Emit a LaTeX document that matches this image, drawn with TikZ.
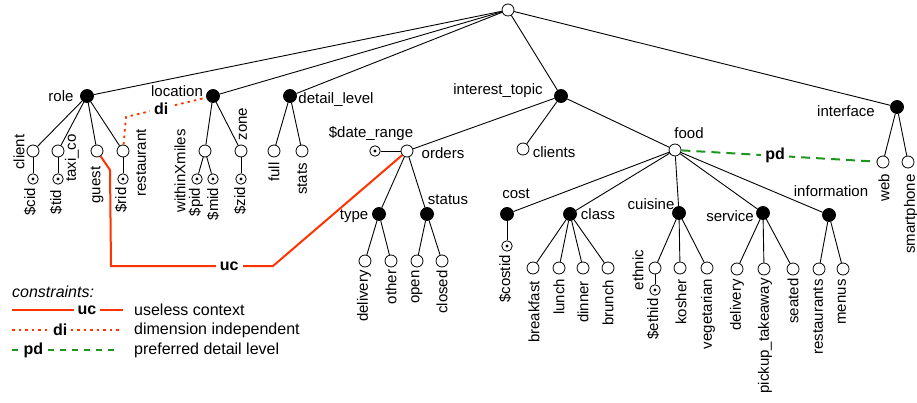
\documentclass[tikz,border=0pt]{standalone}
\usepackage{fontspec}
\setmainfont{Liberation Sans}
\definecolor{ucred}{RGB}{255,51,0}
\definecolor{pdgreen}{RGB}{30,150,30}
\begin{document}
\begin{tikzpicture}[x=1pt,y=-1pt,
  wc/.style={circle,draw,fill=white,minimum size=12pt,inner sep=0pt,line width=0.8pt},
  bc/.style={circle,draw,fill=black,minimum size=13pt,inner sep=0pt,line width=0.8pt},
  pc/.style={circle,draw,fill=white,minimum size=10.5pt,inner sep=0pt,line width=0.8pt,
     path picture={\fill[black] (path picture bounding box.center) circle[radius=1.7pt];}},
  lab/.style={inner sep=0pt,font=\fontsize{15}{15}\selectfont},
  rlab/.style={lab,rotate=90},
  legtext/.style={inner sep=0pt,font=\fontsize{16}{16}\selectfont,anchor=west},
  clab/.style={fill=white,inner xsep=4pt,inner ysep=1pt,font=\fontsize{16}{16}\selectfont\bfseries},
  tedge/.style={line width=0.9pt},
  uc/.style={draw=ucred,line width=2pt},
  di/.style={draw=ucred,line width=1.8pt,dash pattern=on 2.5pt off 4pt},
  pd/.style={draw=pdgreen,line width=2pt,dash pattern=on 9pt off 6pt}
]
\useasboundingbox (0,0) rectangle (917,403);

% ---- internal nodes ----
\node[wc] (root) at (508,10) {};
\node[bc] (role) at (87,96) {};
\node[bc] (location) at (213,96) {};
\node[bc] (detail) at (290,96) {};
\node[bc] (interest) at (561,96) {};
\node[bc] (interface) at (897,107) {};

\node[lab] (lrole) at (61,96) {role};
\node[lab] (llocation) at (177,91) {location};
\node[lab] (ldetail) at (336,100) {detail\_level};
\node[lab] (linterest) at (498,91) {interest\_topic};
\node[lab] (linterface) at (846,111) {interface};

% ---- role subtree ----
\node[wc] (client) at (33,151) {};
\node[pc] (cid) at (33,179) {};
\node[wc] (taxi) at (58,151) {};
\node[pc] (tid) at (58,179) {};
\node[wc] (guest) at (97,151) {};
\node[wc] (restaurant) at (123,151) {};
\node[pc] (rid) at (123,179) {};
\node[rlab] (lclient) at (19,152) {client};
\node[rlab] (lcid) at (30,202) {\$cid};
\node[rlab] (ltaxi) at (72,158) {taxi\_co};
\node[rlab] (ltid) at (56,202) {\$tid};
\node[rlab] (lguest) at (97,185) {guest};
\node[rlab] (lrestaurant) at (141,163) {restaurant};
\node[rlab] (lrid) at (121,200) {\$rid};

% ---- location subtree ----
\node[wc] (within) at (205,151) {};
\node[pc] (pid) at (197,179) {};
\node[pc] (mid) at (213,179) {};
\node[wc] (zone) at (241,151) {};
\node[pc] (zid) at (241,179) {};
\node[rlab] (lwithin) at (180,171) {withinXmiles};
\node[rlab] (lpid) at (196,202) {\$pid};
\node[rlab] (lmid) at (213,204) {\$mid};
\node[rlab] (lzone) at (243,124) {zone};
\node[rlab] (lzid) at (240,201) {\$zid};

% ---- detail subtree ----
\node[wc] (full) at (274,151) {};
\node[wc] (stats) at (302,151) {};
\node[rlab] (lfull) at (274,172) {full};
\node[rlab] (lstats) at (302,179) {stats};

% ---- interest_topic subtree ----
\node[wc] (orders) at (407,151) {};
\node[pc] (daterange) at (375,151) {};
\node[wc] (clients) at (523,149) {};
\node[wc] (food) at (675,150) {};
\node[lab] (lorders) at (443,153) {orders};
\node[lab] (ldaterange) at (371,134) {\$date\_range};
\node[lab] (lclients) at (554,152) {clients};
\node[lab] (lfood) at (689,133) {food};

\node[bc] (type) at (379,214) {};
\node[bc] (status) at (427,214) {};
\node[lab] (ltype) at (354,216) {type};
\node[lab] (lstatus) at (448,200) {status};
\node[wc] (delivery1) at (365,261) {};
\node[wc] (other) at (391,261) {};
\node[wc] (open) at (417,261) {};
\node[wc] (closed) at (442,261) {};
\node[rlab] (ldelivery1) at (364,296) {delivery};
\node[rlab] (lother) at (391,287) {other};
\node[rlab] (lopen) at (417,287) {open};
\node[rlab] (lclosed) at (442,292) {closed};

\node[bc] (cost) at (507,214) {};
\node[pc] (costid) at (507,246) {};
\node[lab] (lcost) at (516,194) {cost};
\node[rlab] (lcostid) at (505,279) {\$costid};
\node[bc] (class) at (570,214) {};
\node[lab] (lclass) at (598,214) {class};
\node[wc] (breakfast) at (533,268) {};
\node[wc] (lunch) at (559,268) {};
\node[wc] (dinner) at (583,268) {};
\node[wc] (brunch) at (608,268) {};
\node[rlab] (lbreakfast) at (534,312) {breakfast};
\node[rlab] (llunch) at (559,297) {lunch};
\node[rlab] (ldinner) at (583,302) {dinner};
\node[rlab] (lbrunch) at (608,303) {brunch};

\node[bc] (cuisine) at (679,213) {};
\node[lab] (lcuisine) at (651,204) {cuisine};
\node[wc] (ethnic) at (655,268) {};
\node[pc] (ethid) at (655,290) {};
\node[wc] (kosher) at (680,268) {};
\node[wc] (vegetarian) at (707,268) {};
\node[rlab] (lethnic) at (638,270) {ethnic};
\node[rlab] (lethid) at (653,319) {\$ethid};
\node[rlab] (lkosher) at (681,302) {kosher};
\node[rlab] (lvegetarian) at (708,314) {vegetarian};

\node[bc] (service) at (763,213) {};
\node[lab] (lservice) at (730,216) {service};
\node[wc] (delivery2) at (737,269) {};
\node[wc] (pickup) at (764,269) {};
\node[wc] (seated) at (793,269) {};
\node[rlab] (ldelivery2) at (737,305) {delivery};
\node[rlab] (lpickup) at (765,336) {pickup\_takeaway};
\node[rlab] (lseated) at (793,301) {seated};

\node[bc] (information) at (829,215) {};
\node[lab] (linformation) at (831,191) {information};
\node[wc] (restaurants) at (819,269) {};
\node[wc] (menus) at (843,269) {};
\node[rlab] (lrestaurants) at (818,317) {restaurants};
\node[rlab] (lmenus) at (842,302) {menus};

% ---- interface subtree ----
\node[wc] (web) at (883,162) {};
\node[wc] (smartphone) at (908,162) {};
\node[rlab] (lweb) at (884,188) {web};
\node[rlab] (lsmartphone) at (911,214) {smartphone};

% ---- tree edges ----
\foreach \a/\b in {root/role,root/location,root/detail,root/interest,root/interface,
  role/client,role/taxi,role/guest,role/restaurant,client/cid,taxi/tid,restaurant/rid,
  location/within,location/zone,within/pid,within/mid,zone/zid,
  detail/full,detail/stats,
  interest/orders,interest/clients,interest/food,orders/daterange,orders/type,orders/status,
  type/delivery1,type/other,status/open,status/closed,
  food/cost,food/class,food/cuisine,food/service,food/information,
  cost/costid,class/breakfast,class/lunch,class/dinner,class/brunch,
  cuisine/ethnic,cuisine/kosher,cuisine/vegetarian,ethnic/ethid,
  service/delivery2,service/pickup,service/seated,
  information/restaurants,information/menus,
  interface/web,interface/smartphone}
  \draw[tedge] (\a) -- (\b);

% ---- constraints ----
\coordinate (uc1) at (110,170);
\coordinate (uc2) at (111,266);
\coordinate (uc3) at (273,266);
\draw[uc] (guest) -- (uc1) -- (uc2) -- node[clab,pos=0.73] (ucl) {uc} (uc3) -- (orders);

\coordinate (di1) at (126,117);
\draw[di] (restaurant) -- (di1) -- node[clab,pos=0.44] (dil) {di} (location);

\draw[pd] (food) -- node[clab,pos=0.48] (pdl) {pd} (web);

% ---- legend ----
\node[legtext,font=\fontsize{16}{16}\selectfont\itshape] (ctitle) at (12,292) {constraints:};
\coordinate (l1a) at (12,310); \coordinate (l1b) at (123,310);
\draw[uc] (l1a) -- node[clab,pos=0.676] (l1l) {uc} (l1b);
\node[legtext] (l1t) at (134,310) {useless context};
\coordinate (l2a) at (12,330); \coordinate (l2b) at (119,330);
\draw[di] (l2a) -- node[clab,pos=0.45] (l2l) {di} (l2b);
\node[legtext] (l2t) at (134,330) {dimension independent};
\coordinate (l3a) at (12,350); \coordinate (l3b) at (119,350);
\draw[pd,dash pattern=on 6pt off 6pt] (l3a) -- node[clab,pos=0.2] (l3l) {pd} (l3b);
\node[legtext] (l3t) at (134,350) {preferred detail level};
\end{tikzpicture}
\end{document}
